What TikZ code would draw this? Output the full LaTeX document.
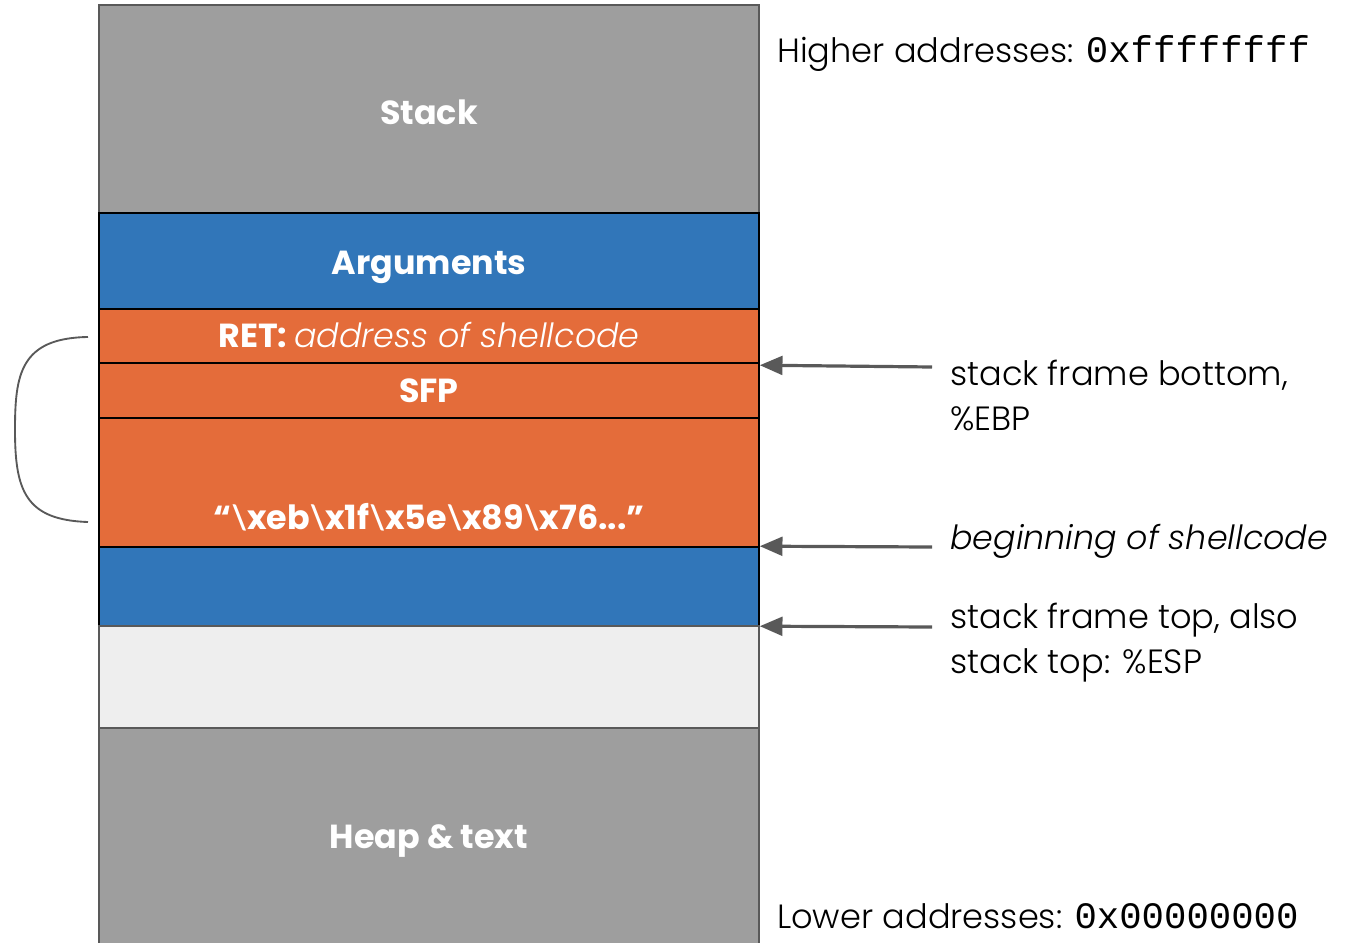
\documentclass[tikz,border=0pt]{standalone}
\usepackage{fontspec}
\setmainfont{Poppins Light}
\newfontfamily\boldlabel{Poppins}[BoldFont={Poppins Bold}]
\newfontfamily\slashfont{Lato}
\setmonofont{Liberation Mono}
\usetikzlibrary{arrows.meta}

\definecolor{stackgray}{HTML}{9E9E9E}
\definecolor{edgegray}{HTML}{595959}
\definecolor{framblue}{HTML}{3176B9}
\definecolor{hotorange}{HTML}{E46C3A}
\definecolor{freegray}{HTML}{EEEEEE}

% slanted backslash for the byte string
\newcommand{\bsl}{{\slashfont\bfseries\textbackslash}}

\tikzset{
  labelfont/.style={font=\boldlabel\bfseries\fontsize{25}{30}\selectfont,
    text height=17.5pt, text depth=0pt, inner sep=0pt},
  seg/.style={draw=black, line width=1.2pt, minimum width=495pt,
    text=white, labelfont},
  graybox/.style={seg, fill=stackgray, draw=edgegray},
  bluebox/.style={seg, fill=framblue},
  orangebox/.style={seg, fill=hotorange},
  note/.style={anchor=west, align=left, inner sep=0pt, text=black,
    font=\fontsize{25.2}{33.75}\selectfont},
  pointer/.style={draw=edgegray, line width=2.4pt,
    -{Triangle[length=17pt,width=14pt]}},
  brace/.style={draw=edgegray, line width=1.4pt},
}

\begin{document}
\begin{tikzpicture}[x=0.75pt, y=-0.75pt]
\useasboundingbox (0,0) rectangle (1345,942);

% memory column, top to bottom
\node[graybox, minimum height=156pt] (stack) at (429,109) {};
\node[text=white, labelfont] (stacklbl) at (429,113) {Stack};
\node[bluebox, minimum height=72pt] (args) at (429,261) {};
\node[text=white, labelfont] (argslbl) at (429,263) {Arguments};
\node[orangebox, minimum height=40.5pt] (ret) at (429,336)
  {RET: {\normalfont\itshape\fontsize{25}{30}\selectfont address of shellcode}};
\node[orangebox, minimum height=41.25pt] (sfp) at (429,390.5) {SFP};
\node[orangebox, minimum height=96.75pt] (shell) at (429,482.5) {};
\node[text=white, labelfont] (shelltxt) at (429,518)
  {“\bsl xeb\bsl x1f\bsl x5e\bsl x89\bsl x76...”};
\node[bluebox, minimum height=59.25pt] (low) at (429,586.5) {};
\node[graybox, fill=freegray, minimum height=76.5pt] (free) at (429,677) {};
\node[graybox, minimum height=163.5pt] (heap) at (429,837) {Heap \& text};

% address range labels
\node[note] (hi) at (777,53) {Higher addresses: {\ttfamily\fontsize{28}{30}\selectfont 0xffffffff}};
\node[note] (lo) at (777,916) {Lower addresses: {\ttfamily\fontsize{28}{30}\selectfont 0x00000000}};

% register annotations
\node[note] (ebp) at (950,395) {stack frame bottom,\\\%EBP};
\node[note, font=\fontsize{25}{33.75}\selectfont\itshape] (beg) at (950,541) {beginning of shellcode};
\node[note] (esp) at (950,643) {stack frame top, also\\stack top: \%ESP};

\coordinate (ebptail) at (932,367);
\coordinate (begtail) at (932,547);
\coordinate (esptail) at (932,627);
\draw[pointer] (ebptail) -- ([yshift=-2.25pt]sfp.north east);
\draw[pointer] (begtail) -- (low.north east);
\draw[pointer] (esptail) -- ([yshift=-0.75pt]free.north east);

% bracket spanning the overwritten region
\coordinate (bracetop) at (88,337);
\coordinate (bracebot) at (88,522);
\draw[brace] (bracetop) .. controls (20,338) and (15,375) .. (15,430)
  .. controls (15,490) and (25,520) .. (bracebot);
\end{tikzpicture}
\end{document}
